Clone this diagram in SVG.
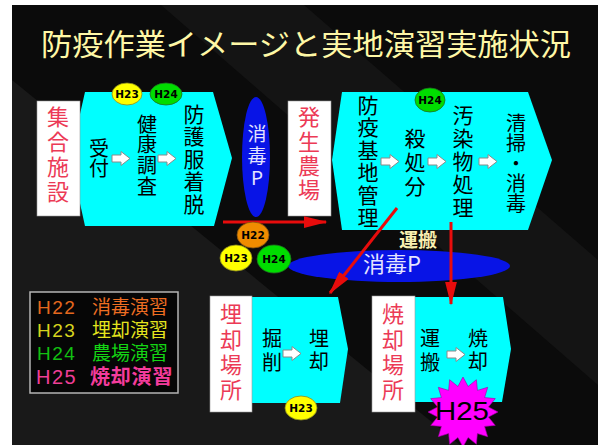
<svg xmlns="http://www.w3.org/2000/svg" width="598" height="445" viewBox="0 0 598 445">
<defs>
<style>
.jp{font-family:"Noto Sans CJK JP","Noto Sans CJK SC",sans-serif;}
.vt{font-family:"Noto Sans CJK JP","Noto Sans CJK SC",sans-serif;writing-mode:vertical-rl;text-orientation:upright;text-anchor:start;}
.red{fill:#ec3a56;font-size:22px;}
.blk{fill:#000;font-size:20px;}
.blk21{fill:#000;font-size:21px;}
.cyan{fill:#00ffff;}
.wbox{fill:#fff;stroke:#9a9a9a;stroke-width:0.6;}
.blue{fill:#0814e6;}
.badge{font-family:"DejaVu Sans",sans-serif;font-weight:bold;font-size:10.5px;text-anchor:middle;fill:#000;}
.conn{stroke:#e80c0c;stroke-width:3;fill:none;marker-end:url(#ah);}
.lat{font-family:"Liberation Sans",sans-serif;letter-spacing:1.5px;}
</style>
<marker id="ah" markerWidth="8" markerHeight="4" refX="7.5" refY="2" orient="auto" markerUnits="strokeWidth">
<path d="M0,0 L8,2 L0,4 Z" fill="#e80c0c"/>
</marker>
<path id="barrow" d="M0,-3.5 H9 V-7 L18,0 L9,7 V3.5 H0 Z" fill="#fff" stroke="#8a8a8a" stroke-width="1"/>
</defs>

<!-- background -->
<rect x="0" y="0" width="598" height="445" fill="#fff"/>
<rect x="12" y="5" width="586" height="440" fill="#0b0b0b"/>
<polygon points="161,5 304,5 598,260 598,385" fill="#141414"/>
<polygon points="12,80 460,445 12,445" fill="#191919"/>

<!-- title -->
<text id="title" class="jp" x="41" y="55" font-size="30" fill="#fff8a6" textLength="530" lengthAdjust="spacingAndGlyphs">防疫作業イメージと実地演習実施状況</text>

<!-- stage 1 -->
<g id="stage1">
<polygon class="cyan" points="85,92 213,92 232,158 214,226 85,226 70,158"/>
<rect class="wbox" x="37" y="101" width="43" height="115"/>
<text class="vt red" x="58" y="106" letter-spacing="3">集合施設</text>
<text class="vt blk" x="99" y="138" letter-spacing="0">受付</text>
<use href="#barrow" x="112" y="158.5"/>
<text class="vt blk" x="147" y="114" letter-spacing="0.7">健康調査</text>
<use href="#barrow" x="158" y="158.5"/>
<text class="vt blk21" x="194" y="103.5" letter-spacing="1.5">防護服着脱</text>
</g>

<g id="disinfect1">
<ellipse class="blue" cx="256" cy="157" rx="14" ry="60"/>
<text class="vt" x="257" y="124.5" font-size="19" letter-spacing="3" fill="#e4e4ff">消毒P</text>
</g>

<!-- stage 2 -->
<g id="stage2">
<polygon class="cyan" points="342,92 528,92 552,160 528,230 342,230 332,160"/>
<rect class="wbox" x="288" y="101" width="43" height="115"/>
<text class="vt red" x="309" y="106" letter-spacing="2.3">発生農場</text>
<text class="vt blk21" x="368" y="94.5" letter-spacing="1.4">防疫基地管理</text>
<use href="#barrow" x="381" y="161.5"/>
<text class="vt blk21" x="415" y="127.5" letter-spacing="3">殺処分</text>
<use href="#barrow" x="428" y="161.5"/>
<text class="vt blk21" x="463" y="104.5" letter-spacing="2">汚染物処理</text>
<use href="#barrow" x="479" y="161.5"/>
<text class="vt blk" x="516" y="113" letter-spacing="0">清掃・消毒</text>
</g>

<g id="disinfect2">
<ellipse class="blue" cx="399" cy="266" rx="111" ry="16"/>
<text class="jp" x="392" y="272" font-size="22" fill="#e4e4ff" text-anchor="middle">消毒P</text>
</g>

<text id="transport-label" class="jp" x="418" y="247" font-size="19" font-weight="bold" fill="#f8f0b0" text-anchor="middle">運搬</text>

<!-- stage 3 -->
<g id="burial">
<polygon class="cyan" points="250,297 338,297 348,349 340,403 250,403"/>
<rect class="wbox" x="210" y="296" width="42" height="116"/>
<text class="vt red" x="231" y="303" letter-spacing="3.3">埋却場所</text>
<text class="vt blk" x="272" y="328" letter-spacing="4">掘削</text>
<use href="#barrow" x="283" y="353.5"/>
<text class="vt blk" x="319" y="328" letter-spacing="3">埋却</text>
</g>

<!-- stage 4 -->
<g id="incineration">
<polygon class="cyan" points="413,297 503,297 511,349 502,402 413,402"/>
<rect class="wbox" x="372" y="296" width="43" height="116"/>
<text class="vt red" x="393" y="303" letter-spacing="3.3">焼却場所</text>
<text class="vt blk" x="430" y="328" letter-spacing="4">運搬</text>
<use href="#barrow" x="447" y="354.5"/>
<text class="vt blk" x="478" y="328" letter-spacing="3">焼却</text>
</g>

<!-- connectors -->
<g id="connectors">
<line class="conn" x1="223" y1="222" x2="326" y2="222"/>
<line class="conn" x1="397" y1="208" x2="330" y2="293"/>
<line class="conn" x1="451" y1="222" x2="451" y2="304"/>
</g>

<!-- badges -->
<g id="badge-h23-a"><ellipse cx="127" cy="94" rx="15" ry="11" fill="#ffff00" stroke="#8a8a20" stroke-width="0.8"/><text class="badge" x="127" y="98">H23</text></g>
<g id="badge-h24-a"><ellipse cx="166" cy="94" rx="16" ry="11" fill="#00dd00" stroke="#207020" stroke-width="0.8"/><text class="badge" x="166" y="98">H24</text></g>
<g id="badge-h24-b"><ellipse cx="430" cy="100" rx="15" ry="12" fill="#00dd00" stroke="#207020" stroke-width="0.8"/><text class="badge" x="430" y="104">H24</text></g>
<g id="badge-h22-c"><ellipse cx="253" cy="235" rx="16" ry="13" fill="#f08c00" stroke="#805010" stroke-width="0.8"/><text class="badge" x="253" y="239">H22</text></g>
<g id="badge-h23-c"><ellipse cx="236" cy="258" rx="16" ry="13" fill="#ffff00" stroke="#8a8a20" stroke-width="0.8"/><text class="badge" x="236" y="262">H23</text></g>
<g id="badge-h24-c"><ellipse cx="274" cy="259" rx="17" ry="14" fill="#00dd00" stroke="#207020" stroke-width="0.8"/><text class="badge" x="274" y="263">H24</text></g>
<g id="badge-h23-d"><ellipse cx="301" cy="408" rx="16" ry="12" fill="#ffff00" stroke="#8a8a20" stroke-width="0.8"/><text class="badge" x="301" y="412">H23</text></g>

<g id="badge-h25">
<polygon transform="translate(2 0)" fill="#ff00ff" stroke="#a000a0" stroke-width="0.6" points="461,377 466.1,386.5 474.4,379.7 475.4,390.4 485.7,387.3 482.6,397.6 493.3,398.6 486.5,406.9 496,412 486.5,417.1 493.3,425.4 482.6,426.4 485.7,436.7 475.4,433.6 474.4,444.3 466.1,437.5 461,447 455.9,437.5 447.6,444.3 446.6,433.6 436.3,436.7 439.4,426.4 428.7,425.4 435.5,417.1 426,412 435.5,406.9 428.7,398.6 439.4,397.6 436.3,387.3 446.6,390.4 447.6,379.7 455.9,386.5"/>
<text x="462" y="420" font-family="Liberation Sans, sans-serif" font-size="25" fill="#000" text-anchor="middle" textLength="54" lengthAdjust="spacingAndGlyphs">H25</text>
</g>

<!-- legend -->
<g id="legend">
<rect x="30" y="292" width="148" height="101" fill="#060606" stroke="#b4b4b4" stroke-width="1.5"/>
<text class="jp" font-size="19"><tspan class="lat" x="37" y="314" fill="#e4681e">H22</tspan><tspan x="92" y="314" fill="#ee6e22">消毒演習</tspan><tspan class="lat" x="37" y="337" fill="#d6d41e">H23</tspan><tspan x="92" y="337" fill="#e4e41e">埋却演習</tspan><tspan class="lat" x="37" y="360" fill="#12c012">H24</tspan><tspan x="92" y="360" fill="#14d414">農場演習</tspan><tspan class="lat" x="36" y="384" font-size="20" fill="#ee3e96">H25</tspan><tspan x="90" y="384" font-size="20" font-weight="bold" letter-spacing="0.8" fill="#f43c9c">焼却演習</tspan></text>
</g>
</svg>
